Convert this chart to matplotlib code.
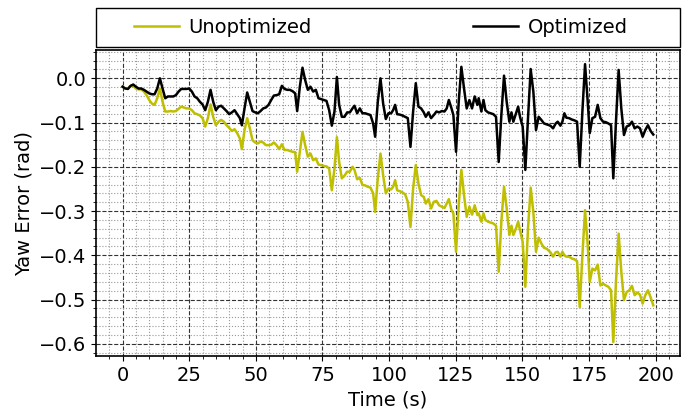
import matplotlib
matplotlib.use("Agg")
import matplotlib.pyplot as plt
from matplotlib.patches import Rectangle
from matplotlib.ticker import MultipleLocator

# time stamps (s)
time = [0, 1, 2, 3, 4, 5, 6, 7, 8, 9, 10, 11, 12, 13, 14, 15, 16, 17, 18, 19,
        20, 21, 22, 23, 24, 25, 26, 27, 28, 29, 30, 31, 32, 33, 34, 35, 36, 37, 38, 39,
        40, 41, 42, 43, 44, 44.75, 45.75, 46.75, 47.75, 48.75, 49.75, 50.75, 51.75, 52.75,
        53.75, 54.75, 55.75, 56.75, 57.75, 58.75, 59.75, 60.75, 61.75, 62.75, 63.75, 64.75,
        65.5, 66.5, 67.5, 68.5, 69.5, 70.5, 71.5, 72.5, 73.5, 74.5, 75.5, 76.5, 77.5, 78.5,
        79.5, 80.4, 81.25, 82.25, 83.25, 84.25, 85.25, 86.25, 87, 88, 89, 90, 91, 92, 93, 94,
        94.75, 95.75, 96.75, 97.75, 98.75, 99.75, 100.75, 101.5, 102.25, 103, 104, 105, 106,
        107, 108, 109, 110, 111, 112, 113, 113.75, 114.75, 115.75, 116.75, 117.75, 118.75,
        119.75, 120.75, 121.6, 122.4, 123.4, 124.1, 125.1, 126.1, 127.1, 128.1, 129.1, 130.1,
        131.1, 132.1, 133.1, 133.6, 134.6, 135.4, 136.1, 137.1, 138.1, 139.1, 140.1, 141.1,
        142.1, 143.1, 144.1, 145.1, 145.9, 146.6, 147.6, 148.4, 149.1, 150.1, 151.1, 152.1,
        153.1, 154.1, 155.1, 156.1, 157.1, 158.1, 159.1, 160.5, 161.5, 162.5, 163.25, 164.25,
        165, 165.75, 166.5, 167.5, 168.5, 169.5, 170.5, 171.5, 172.5, 173.5, 174.5, 175.25,
        176.25, 177.25, 178.25, 179.25, 180.25, 181.25, 182.25, 183.25, 184.1, 185.1, 186.1,
        187.1, 188.1, 189.1, 190.1, 191.1, 192.1, 193.1, 194.1, 195.1, 196.1, 197.1, 198.1,
        199.1]

optimized = [-0.019, -0.023, -0.024, -0.017, -0.014, -0.019, -0.023, -0.023, -0.026, -0.030,
             -0.034, -0.036, -0.036, -0.023, 0.000, -0.023, -0.045, -0.041, -0.041, -0.041,
             -0.038, -0.030, -0.024, -0.024, -0.024, -0.023, -0.030, -0.041, -0.045, -0.053,
             -0.059, -0.072, -0.053, -0.026, -0.053, -0.072, -0.064, -0.062, -0.068, -0.074,
             -0.081, -0.077, -0.072, -0.081, -0.090, -0.106, -0.068, -0.032, -0.053, -0.074,
             -0.077, -0.079, -0.074, -0.068, -0.066, -0.060, -0.049, -0.039, -0.038, -0.036,
             -0.017, -0.024, -0.026, -0.026, -0.029, -0.034, -0.074, -0.019, 0.024, -0.004,
             -0.026, -0.019, -0.030, -0.026, -0.045, -0.047, -0.049, -0.051, -0.072, -0.107,
             -0.075, 0.003, -0.060, -0.087, -0.087, -0.077, -0.077, -0.068, -0.062, -0.079,
             -0.068, -0.079, -0.079, -0.081, -0.083, -0.102, -0.132, -0.053, 0.000, -0.057,
             -0.092, -0.079, -0.079, -0.072, -0.060, -0.081, -0.082, -0.084, -0.087, -0.090,
             -0.155, -0.075, -0.011, -0.064, -0.068, -0.077, -0.087, -0.077, -0.090, -0.083,
             -0.075, -0.077, -0.074, -0.075, -0.068, -0.049, -0.068, -0.083, -0.166, -0.053,
             0.026, -0.023, -0.068, -0.049, -0.068, -0.041, -0.060, -0.045, -0.075, -0.049,
             -0.072, -0.077, -0.079, -0.081, -0.087, -0.189, -0.083, 0.006, -0.053, -0.098,
             -0.077, -0.098, -0.079, -0.064, -0.087, -0.109, -0.207, -0.090, 0.021, -0.030,
             -0.117, -0.087, -0.094, -0.102, -0.104, -0.107, -0.113, -0.102, -0.098, -0.107,
             -0.098, -0.079, -0.089, -0.090, -0.093, -0.095, -0.098, -0.200, -0.075, 0.032,
             -0.053, -0.124, -0.090, -0.087, -0.060, -0.090, -0.098, -0.099, -0.102, -0.106,
             -0.226, -0.098, 0.019, -0.068, -0.128, -0.109, -0.106, -0.098, -0.113, -0.109,
             -0.113, -0.132, -0.117, -0.106, -0.119, -0.127]

unoptimized = [-0.019, -0.023, -0.023, -0.017, -0.017, -0.023, -0.025, -0.025, -0.030, -0.038,
               -0.049, -0.057, -0.060, -0.045, -0.023, -0.053, -0.075, -0.075, -0.074, -0.075,
               -0.074, -0.069, -0.064, -0.066, -0.068, -0.068, -0.072, -0.079, -0.081, -0.084,
               -0.090, -0.109, -0.090, -0.059, -0.087, -0.106, -0.098, -0.094, -0.098, -0.106,
               -0.112, -0.119, -0.115, -0.124, -0.136, -0.160, -0.117, -0.090, -0.113, -0.140,
               -0.145, -0.147, -0.143, -0.145, -0.151, -0.151, -0.150, -0.145, -0.151, -0.160,
               -0.149, -0.162, -0.162, -0.164, -0.166, -0.167, -0.211, -0.166, -0.121, -0.151,
               -0.177, -0.170, -0.185, -0.181, -0.195, -0.196, -0.198, -0.199, -0.204, -0.253,
               -0.204, -0.133, -0.189, -0.226, -0.220, -0.211, -0.211, -0.200, -0.207, -0.228,
               -0.225, -0.241, -0.242, -0.245, -0.247, -0.260, -0.302, -0.226, -0.170, -0.219,
               -0.260, -0.249, -0.251, -0.245, -0.230, -0.253, -0.255, -0.258, -0.262, -0.279,
               -0.336, -0.249, -0.196, -0.238, -0.264, -0.268, -0.283, -0.273, -0.294, -0.279,
               -0.277, -0.287, -0.290, -0.293, -0.283, -0.273, -0.298, -0.305, -0.392, -0.287,
               -0.207, -0.264, -0.313, -0.290, -0.308, -0.287, -0.309, -0.305, -0.324, -0.305,
               -0.320, -0.324, -0.326, -0.328, -0.333, -0.437, -0.324, -0.245, -0.294, -0.354,
               -0.333, -0.354, -0.339, -0.324, -0.343, -0.370, -0.471, -0.339, -0.247, -0.302,
               -0.392, -0.360, -0.373, -0.383, -0.385, -0.393, -0.403, -0.393, -0.392, -0.403,
               -0.392, -0.400, -0.403, -0.403, -0.407, -0.409, -0.413, -0.517, -0.400, -0.298,
               -0.377, -0.460, -0.430, -0.434, -0.421, -0.468, -0.464, -0.468, -0.471, -0.479,
               -0.596, -0.460, -0.351, -0.437, -0.501, -0.483, -0.479, -0.469, -0.490, -0.484,
               -0.489, -0.509, -0.490, -0.479, -0.495, -0.513]

fig = plt.figure(figsize=(6.86, 4.12), dpi=100)
ax = fig.add_axes([0.140, 0.136, 0.851, 0.742])

ax.plot(time, unoptimized, color='y', linewidth=1.8, label='Unoptimized')
ax.plot(time, optimized, color='k', linewidth=1.8, label='Optimized')

ax.xaxis.set_major_locator(MultipleLocator(25))
ax.xaxis.set_minor_locator(MultipleLocator(5))
ax.yaxis.set_major_locator(MultipleLocator(0.1))
ax.yaxis.set_minor_locator(MultipleLocator(0.02))
ax.grid(which='major', linestyle='--', color='0.2', linewidth=0.8)
ax.grid(which='minor', linestyle=':', color='0.6', linewidth=0.8)
ax.set_axisbelow(True)

ax.tick_params(labelsize=14)
ax.set_xlabel("Time (s)", fontsize=14)
ax.set_ylabel("Yaw Error (rad)", fontsize=14)

for s in ax.spines.values():
    s.set_linewidth(1.2)

# legend box above the plot
ax.add_patch(Rectangle((0, 1.012), 1, 0.125, transform=ax.transAxes, fill=False,
                       edgecolor='k', linewidth=1.0, clip_on=False))
ax.legend(ncol=2, loc='center', bbox_to_anchor=(0.488, 1.075), frameon=False,
          fontsize=14, handlelength=2.3, handletextpad=0.5, columnspacing=8.3)

fig.savefig("out.png", dpi=100)
